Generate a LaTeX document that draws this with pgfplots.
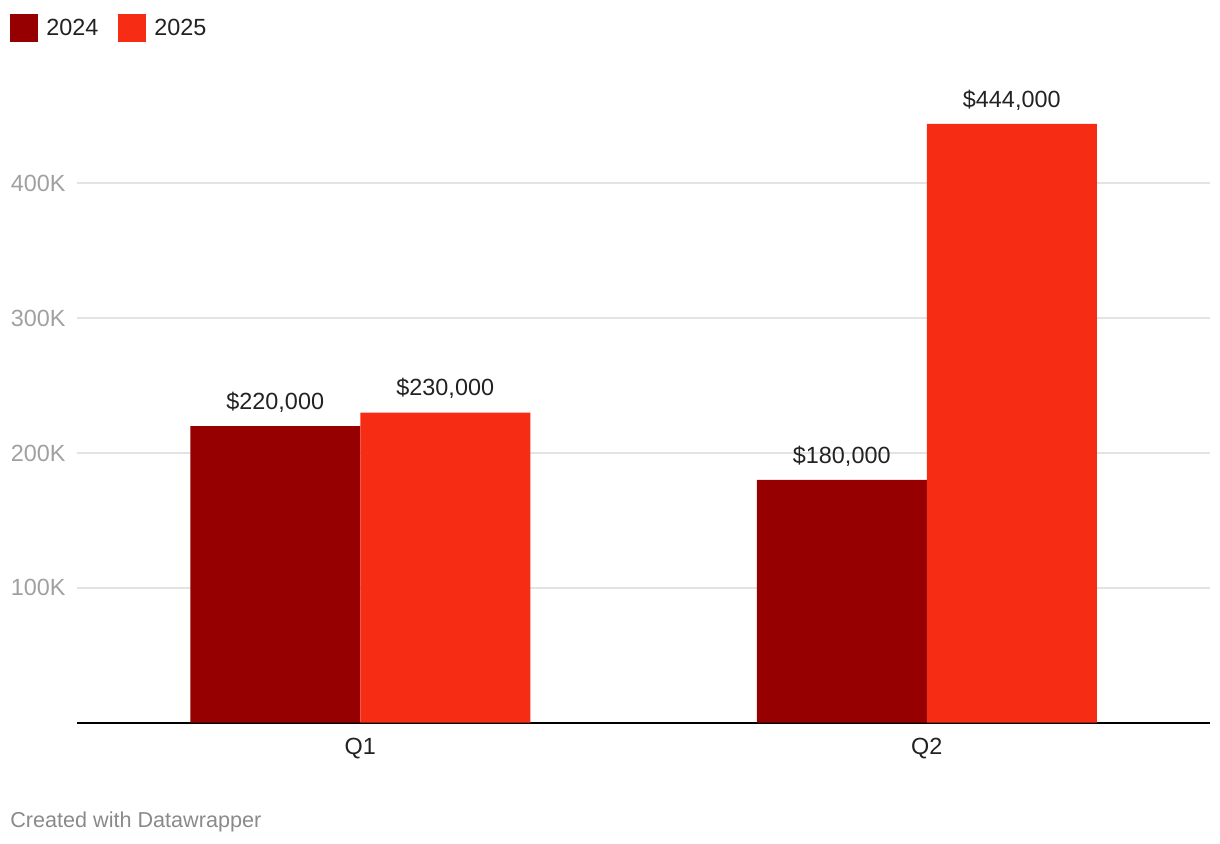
\documentclass[border=0pt]{standalone}
\usepackage{fontspec}
\setmainfont{Liberation Sans}
\usepackage{pgfplots}
\pgfplotsset{compat=1.18}
\definecolor{dark}{HTML}{960000}
\definecolor{bright}{HTML}{F72C15}
\definecolor{gridc}{HTML}{E3E3E3}
\definecolor{ticklab}{HTML}{A0A0A0}
\definecolor{txt}{HTML}{222222}
\definecolor{credit}{HTML}{8A8A8A}

\begin{document}
\begin{tikzpicture}
\path[use as bounding box] (0,0) rectangle (610pt,422pt);
\begin{axis}[
  at={(38.5pt,60.65pt)}, anchor=south west,
  width=566.5pt, height=303.4pt, scale only axis,
  xmin=-0.5, xmax=1.5, ymin=0, ymax=450000,
  ybar=0pt, bar width=85pt,
  xtick={0,1}, xticklabels={Q1,Q2},
  ytick={100000,200000,300000,400000},
  yticklabels={100K,200K,300K,400K},
  scaled y ticks=false,
  ymajorgrids, major grid style={gridc, line width=1pt},
  major tick length=0pt,
  axis x line*=bottom, axis y line*=left,
  x axis line style={black, line width=1pt, -},
  y axis line style={draw=none},
  tick label style={font=\fontsize{11.7}{14}\selectfont},
  yticklabel style={ticklab, inner sep=0pt, anchor=east, xshift=-5.5pt},
  xticklabel style={txt, inner sep=0pt, anchor=center, yshift=-12.7pt},
  clip=false,
  nodes near coords,
  point meta=explicit symbolic,
  every node near coord/.append style={txt, inner sep=0pt, anchor=center, yshift=12pt,
    font=\fontsize{11.7}{14}\selectfont},
  legend columns=-1,
  legend image code/.code={\path (-10pt,0) (18pt,0);
    \fill[#1] (0pt,-7pt) rectangle (14pt,7pt);},
  legend style={at={(axis description cs:0,1)}, anchor=north west,
    xshift=-43.5pt, yshift=50.95pt, draw=none, inner sep=0pt,
    font=\fontsize{11.7}{14}\selectfont, text=txt,
    nodes={inner sep=0pt}, column sep=0pt},
]
% 2024
\addplot[fill=dark, draw=none]
  coordinates {(0,220000) [\$220,000] (1,180000) [\$180,000]};
\addlegendentry{2024}
% 2025
\addplot[fill=bright, draw=none]
  coordinates {(0,230000) [\$230,000] (1,444000) [\$444,000]};
\addlegendentry{2025}
\end{axis}
\node[anchor=west, inner sep=0pt, font=\fontsize{10.8}{13}\selectfont, text=credit]
  at (5pt,11.15pt) {Created with Datawrapper};
\end{tikzpicture}
\end{document}
